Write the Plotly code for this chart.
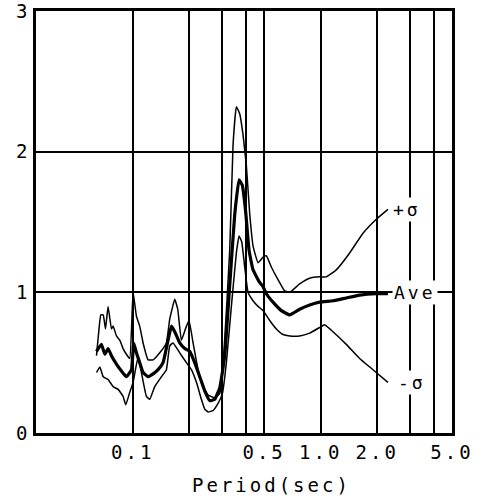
import math
import plotly.graph_objects as go

# Period (sec) and response values
ave_period = [0.0641, 0.0681, 0.0710, 0.0739, 0.0770, 0.0819, 0.0871, 0.0925, 0.0984, 0.1012,
              0.1046, 0.1089, 0.1135, 0.1207, 0.1283, 0.1364, 0.1449, 0.1541, 0.1606, 0.1673,
              0.1778, 0.1891, 0.2010, 0.2137, 0.2272, 0.2415, 0.2568, 0.2730, 0.2903, 0.3086,
              0.3281, 0.3487, 0.3678, 0.3831, 0.3991, 0.4157, 0.4366, 0.4738, 0.4935, 0.5140,
              0.5577, 0.6177, 0.6841, 0.7732, 0.8739, 0.9878, 1.163, 1.369, 1.612, 1.978, 2.281]
ave_value = [0.58, 0.63, 0.56, 0.60, 0.55, 0.49, 0.44, 0.40, 0.45, 0.64,
             0.57, 0.50, 0.43, 0.40, 0.42, 0.45, 0.50, 0.66, 0.76, 0.72,
             0.64, 0.60, 0.58, 0.50, 0.40, 0.30, 0.23, 0.24, 0.32, 0.55,
             1.05, 1.55, 1.80, 1.76, 1.57, 1.30, 1.16, 1.07, 1.04, 0.99,
             0.93, 0.87, 0.84, 0.88, 0.91, 0.93, 0.94, 0.96, 0.98, 0.99, 0.99]

plus_period = [0.0641, 0.0659, 0.0676, 0.0696, 0.0716, 0.0739, 0.0770, 0.0786, 0.0819, 0.0853,
               0.0888, 0.0925, 0.0964, 0.1004, 0.1046, 0.1089, 0.1135, 0.1207, 0.1283, 0.1392,
               0.1510, 0.1573, 0.1673, 0.1735, 0.1815, 0.1930, 0.1993, 0.2094, 0.2226, 0.2366,
               0.2516, 0.2730, 0.2903, 0.3048, 0.3281, 0.3418, 0.3559, 0.3708, 0.3862, 0.4023,
               0.4191, 0.4366, 0.4642, 0.4935, 0.5140, 0.5464, 0.5929, 0.6434, 0.6841, 0.7732,
               0.8739, 0.9878, 1.072, 1.211, 1.427, 1.680, 1.978, 2.281]
plus_value = [0.55, 0.72, 0.84, 0.84, 0.74, 0.90, 0.74, 0.76, 0.69, 0.66,
              0.60, 0.56, 0.53, 1.00, 0.83, 0.76, 0.64, 0.52, 0.52, 0.57,
              0.64, 0.81, 0.95, 0.88, 0.66, 0.76, 0.80, 0.64, 0.45, 0.33,
              0.27, 0.25, 0.28, 0.55, 1.30, 2.05, 2.32, 2.27, 2.12, 1.90,
              1.56, 1.33, 1.21, 1.25, 1.26, 1.18, 1.09, 1.01, 1.00, 1.06,
              1.10, 1.11, 1.11, 1.16, 1.28, 1.42, 1.52, 1.59]

minus_period = [0.0641, 0.0668, 0.0696, 0.0739, 0.0786, 0.0836, 0.0888, 0.0918, 0.0964, 0.1004,
                0.1067, 0.1112, 0.1182, 0.1231, 0.1309, 0.1421, 0.1510, 0.1573, 0.1639, 0.1778,
                0.1930, 0.2051, 0.2182, 0.2318, 0.2415, 0.2516, 0.2675, 0.2844, 0.2999, 0.3149,
                0.3348, 0.3559, 0.3678, 0.3800, 0.3942, 0.4107, 0.4366, 0.4642, 0.4935, 0.5353,
                0.5810, 0.6305, 0.6841, 0.7732, 0.8739, 0.9878, 1.050, 1.163, 1.369, 1.612,
                1.898, 2.281]
minus_value = [0.43, 0.47, 0.40, 0.38, 0.33, 0.31, 0.26, 0.20, 0.29, 0.36,
               0.54, 0.43, 0.26, 0.24, 0.33, 0.40, 0.45, 0.62, 0.64, 0.57,
               0.50, 0.45, 0.36, 0.24, 0.17, 0.15, 0.16, 0.21, 0.28, 0.50,
               0.90, 1.28, 1.40, 1.36, 1.18, 1.00, 0.94, 0.90, 0.87, 0.80,
               0.74, 0.70, 0.69, 0.69, 0.71, 0.75, 0.77, 0.72, 0.63, 0.53,
               0.45, 0.36]

x_grid = [0.1, 0.2, 0.3, 0.4, 0.5, 1.0, 2.0, 3.0, 4.0, 5.0]
x_text = ["0.1", "", "", "", "0.5", "1.0", "2.0", "", "", "5.0"]
y_ticks = [0, 1, 2, 3]
y_text = ["0", "1", "2", "3"]

# curve-end labels: (label, period where the label starts, value)
label_text = ["+σ", "Ave", "-σ"]
label_period = [2.36, 2.41, 2.53]
label_value = [1.59, 1.0, 0.36]

FONT = "DejaVu Sans Mono"
LS = "letter-spacing:3px"


def spaced(t):
    return f'<span style="{LS}">{t}</span>' if t else ""


fig = go.Figure()
fig.add_trace(go.Scatter(x=plus_period, y=plus_value, mode="lines",
                         line=dict(color="black", width=1.5, shape="spline", smoothing=0.35)))
fig.add_trace(go.Scatter(x=minus_period, y=minus_value, mode="lines",
                         line=dict(color="black", width=1.5, shape="spline", smoothing=0.35)))
fig.add_trace(go.Scatter(x=ave_period, y=ave_value, mode="lines",
                         line=dict(color="black", width=3.2, shape="spline", smoothing=0.35)))

ann_font = dict(family=FONT, size=18, color="black")
for t, p, v in zip(label_text, label_period, label_value):
    fig.add_annotation(x=math.log10(p), y=v, xref="x", yref="y",
                       text=spaced(t),
                       showarrow=False, xanchor="left", yanchor="middle",
                       bgcolor="white", borderpad=1, font=ann_font)

fig.add_annotation(x=0.565, xref="paper", y=-0.123, yref="paper",
                   text=spaced("Period(sec)"),
                   showarrow=False, xanchor="center", yanchor="middle",
                   font=dict(family=FONT, size=19, color="black"))

fig.update_xaxes(type="log", range=[-1.515, 0.699], tickvals=x_grid,
                 ticktext=[spaced(t) for t in x_text], automargin=False,
                 ticklabeloverflow="allow",
                 showgrid=True, gridcolor="black", gridwidth=1.5,
                 showline=True, linecolor="black", linewidth=2.5, mirror=True,
                 ticks="", ticklabelstandoff=0,
                 tickfont=dict(family=FONT, size=19, color="black"), zeroline=False)
fig.update_yaxes(range=[0, 3], tickvals=y_ticks, ticktext=y_text, automargin=False,
                 ticklabeloverflow="allow",
                 showgrid=True, gridcolor="black", gridwidth=1.5,
                 showline=True, linecolor="black", linewidth=2.5, mirror=True,
                 ticks="", ticklabelstandoff=2,
                 tickfont=dict(family=FONT, size=19, color="black"), zeroline=False)
fig.update_layout(width=489, height=498, showlegend=False,
                  margin=dict(l=36, r=37, t=11, b=65),
                  plot_bgcolor="white", paper_bgcolor="white")

fig.write_html("out.html")
